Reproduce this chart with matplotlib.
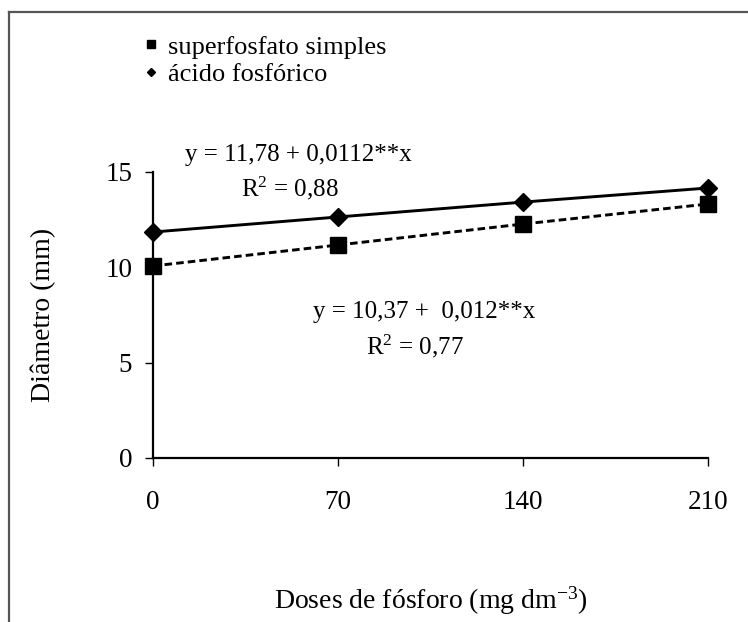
import numpy as np
import matplotlib
matplotlib.use('Agg')
from matplotlib import pyplot as plt
from matplotlib.lines import Line2D

plt.rcParams['font.family'] = 'Liberation Serif'
plt.rcParams['mathtext.fontset'] = 'custom'
plt.rcParams['mathtext.rm'] = 'Liberation Serif'
plt.rcParams['mathtext.it'] = 'Liberation Serif:italic'

doses = [0, 70, 140, 210]
superfosfato = [10.07, 11.17, 12.27, 13.32]
acido = [11.85, 12.64, 13.42, 14.16]
x_ticks = [0, 70, 140, 210]
y_ticks = [0, 5, 10, 15]

fig = plt.figure(figsize=(7.48, 6.22), dpi=100)
ax = fig.add_axes([0.2045, 0.2637, 0.742, 0.4598])

ax.plot(doses, acido, color='black', lw=2.1, marker='D', markersize=9.5,
        clip_on=False, zorder=3)
ax.plot(doses, superfosfato, color='black', lw=2.1, ls=(0, (2.6, 1.4)),
        marker='s', markersize=11, clip_on=False, zorder=3)

ax.set_xlim(0, 210)
ax.set_ylim(0, 15)
ax.set_xticks(x_ticks)
ax.set_yticks(y_ticks)
ax.tick_params(direction='out', length=6, width=1, labelsize=19.5)
ax.tick_params(axis='x', pad=17)
ax.tick_params(axis='y', pad=9)
for s in ['top', 'right']:
    ax.spines[s].set_visible(False)
for s in ['left', 'bottom']:
    ax.spines[s].set_linewidth(1.6)

ax.set_xlabel('Doses de fósforo (mg dm$^{-3}$)', fontsize=20, labelpad=50)
ax.set_ylabel('Diâmetro (mm)', fontsize=20, labelpad=35)

fig.text(298 / 748, 1 - 155 / 622, 'y = 11,78 + 0,0112**x', fontsize=18,
         ha='center', va='center')
fig.text(290 / 748, 1 - 188 / 622, 'R$^{2}$ = 0,88', fontsize=18,
         ha='center', va='center')
fig.text(424 / 748, 1 - 312 / 622, 'y = 10,37 +  0,012**x', fontsize=18,
         ha='center', va='center')
fig.text(415 / 748, 1 - 346 / 622, 'R$^{2}$ = 0,77', fontsize=18,
         ha='center', va='center')

handles = [
    Line2D([], [], color='black', marker='s', ls='none', markersize=6),
    Line2D([], [], color='black', marker='D', ls='none', markersize=4.5),
]
fig.legend(handles, ['superfosfato simples', 'ácido fosfórico'],
           loc='upper left', bbox_to_anchor=(130 / 748, 1 - 22 / 622),
           frameon=False, fontsize=19, handlelength=0.6, handletextpad=0.35,
           labelspacing=0.15, borderpad=0)

# frame (only left and top edges visible)
fx = 9 / 748
fy = 1 - 12 / 622
fig.add_artist(Line2D([fx, fx], [0, fy], color='#555555', lw=1.6))
fig.add_artist(Line2D([fx, 1], [fy, fy], color='#555555', lw=1.6))

fig.savefig('out.png', dpi=100)
